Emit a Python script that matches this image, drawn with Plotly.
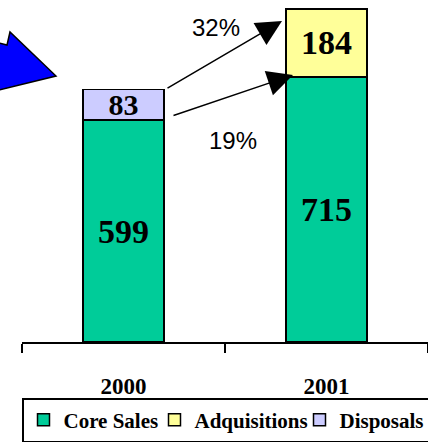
import plotly.graph_objects as go

years = ["2000", "2001"]
core_sales = [599, 715]
adquisitions = [None, 184]
disposals = [83, None]
growth_labels = ["32%", "19%"]

W, H = 428, 442
ML, MR, MT, MB = 22, 0, 0, 100
PW, PH = W - ML - MR, H - MT - MB


def px2x(px):
    return (px - ML) / PW


def px2y(py):
    return (MT + PH - py) / PH


def labels(vals):
    return ["" if v is None else str(v) for v in vals]


serif = "Liberation Serif"
sans = "Liberation Sans"
line = dict(color="black", width=1.5)

fig = go.Figure()
fig.add_trace(go.Bar(
    x=years, y=core_sales, name="Core Sales", legendwidth=86,
    marker=dict(color="#00CC99", line=line),
    text=labels(core_sales), textposition="inside", insidetextanchor="middle",
    textangle=0,
    textfont=dict(family=serif, size=34, color="black", weight="bold"),
))
fig.add_trace(go.Bar(
    x=years, y=adquisitions, name="Adquisitions", legendwidth=100,
    marker=dict(color="#FFFF99", line=line),
    text=labels(adquisitions), textposition="inside", insidetextanchor="middle",
    textangle=0,
    textfont=dict(family=serif, size=34, color="black", weight="bold"),
))
fig.add_trace(go.Bar(
    x=years, y=disposals, name="Disposals", legendwidth=84,
    marker=dict(color="#CCCCFF", line=line),
    text=labels(disposals), textposition="inside", insidetextanchor="middle",
    textangle=0,
    textfont=dict(family=serif, size=30, color="black", weight="bold"),
))

# blue pointer shape (pixel outline converted to paper coords)
blue_pts = [(-5, 42), (7, 45), (10, 32), (56, 76), (-5, 91)]
path = "M " + " L ".join(f"{px2x(x):.4f},{px2y(y):.4f}" for x, y in blue_pts) + " Z"
fig.add_shape(type="path", xref="paper", yref="paper", path=path,
              fillcolor="#0000FF", line=dict(color="black", width=1.5), layer="above")

annotations = [
    dict(x=px2x(282), y=px2y(21), xref="paper", yref="paper", text="",
         showarrow=True, ax=-116, ay=68, arrowhead=2, arrowsize=3.4,
         arrowwidth=1.5, arrowcolor="black", standoff=0),
    dict(x=px2x(293), y=px2y(75), xref="paper", yref="paper", text="",
         showarrow=True, ax=-121, ay=41, arrowhead=2, arrowsize=3.4,
         arrowwidth=1.5, arrowcolor="black", standoff=0),
    dict(x=px2x(216), y=px2y(27), xref="paper", yref="paper", text=growth_labels[0],
         xanchor="center", yanchor="middle",
         showarrow=False, font=dict(family=sans, size=24, color="black")),
    dict(x=px2x(233), y=px2y(140), xref="paper", yref="paper", text=growth_labels[1],
         xanchor="center", yanchor="middle",
         showarrow=False, font=dict(family=sans, size=24, color="black")),
]

fig.update_layout(
    width=W, height=H,
    margin=dict(l=ML, r=MR, t=MT, b=MB, autoexpand=False),
    barmode="stack", bargap=0.6,
    paper_bgcolor="white", plot_bgcolor="white",
    showlegend=True,
    legend=dict(orientation="h", x=0, xanchor="left", y=px2y(398), yanchor="top",
                bordercolor="black", borderwidth=1.5, bgcolor="white",
                font=dict(family=serif, size=21, color="black", weight="bold"),
                itemwidth=30, traceorder="normal"),
    xaxis=dict(type="category", range=[-0.5, 1.5], showline=True, linecolor="black",
               linewidth=1.5, ticks="outside", tickson="boundaries", ticklen=9,
               tickwidth=1.5, tickcolor="black", showgrid=False,
               ticklabelstandoff=23,
               tickfont=dict(family=serif, size=23, color="black", weight="bold")),
    yaxis=dict(range=[0, 923], visible=False, showgrid=False, zeroline=False),
    uniformtext=dict(mode="show", minsize=30),
    annotations=annotations,
)

fig.write_html("out.html")
